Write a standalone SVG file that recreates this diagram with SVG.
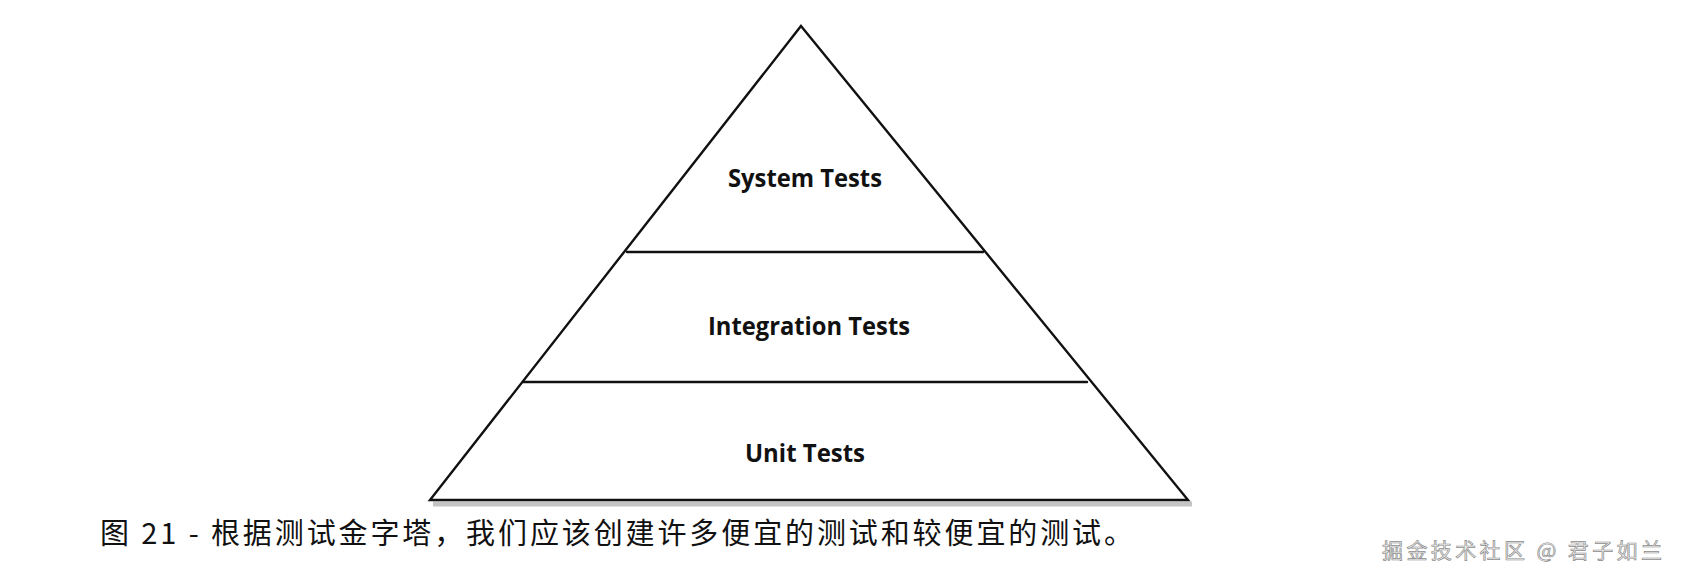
<svg xmlns="http://www.w3.org/2000/svg" width="1684" height="584" viewBox="0 0 1684 584">
<style>
.edge{stroke:#111;stroke-width:2.4;fill:none;stroke-linecap:round;stroke-linejoin:miter}
.lbl{font-family:"Open Sans","Liberation Sans",sans-serif;font-weight:700;font-size:25px;fill:#111;text-anchor:middle}
.cap{font-family:"Noto Sans CJK SC","Noto Sans",sans-serif;font-size:29px;fill:#111}
.wm{font-family:"Noto Sans CJK SC","Noto Sans",sans-serif;font-size:21px;fill:#eeeeee;stroke:#8c8c8c;stroke-width:0.7}
</style>
<rect width="1684" height="584" fill="#ffffff"/>
<g id="pyramid">
<line x1="433" y1="504" x2="1192" y2="504" stroke="#c4c4c4" stroke-width="5"/>
<polygon class="edge" points="801,26 1188,500 430,500"/>
</g>
<g id="connectors">
<line class="edge" x1="627" y1="252" x2="983" y2="252"/>
<line class="edge" x1="523" y1="382" x2="1087" y2="382"/>
</g>
<g id="system-tests"><text class="lbl" x="805" y="187" textLength="154" lengthAdjust="spacingAndGlyphs">System Tests</text></g>
<g id="integration-tests"><text class="lbl" x="809" y="335" textLength="202" lengthAdjust="spacingAndGlyphs">Integration Tests</text></g>
<g id="unit-tests"><text class="lbl" x="805" y="462" textLength="120" lengthAdjust="spacingAndGlyphs">Unit Tests</text></g>
<g id="caption"><text class="cap" x="100" y="544" textLength="1033" lengthAdjust="spacing">图 21 - 根据测试金字塔，我们应该创建许多便宜的测试和较便宜的测试。</text></g>
<g id="watermark"><text class="wm" x="1382" y="558" textLength="280" lengthAdjust="spacing">掘金技术社区 @ 君子如兰</text></g>
</svg>
